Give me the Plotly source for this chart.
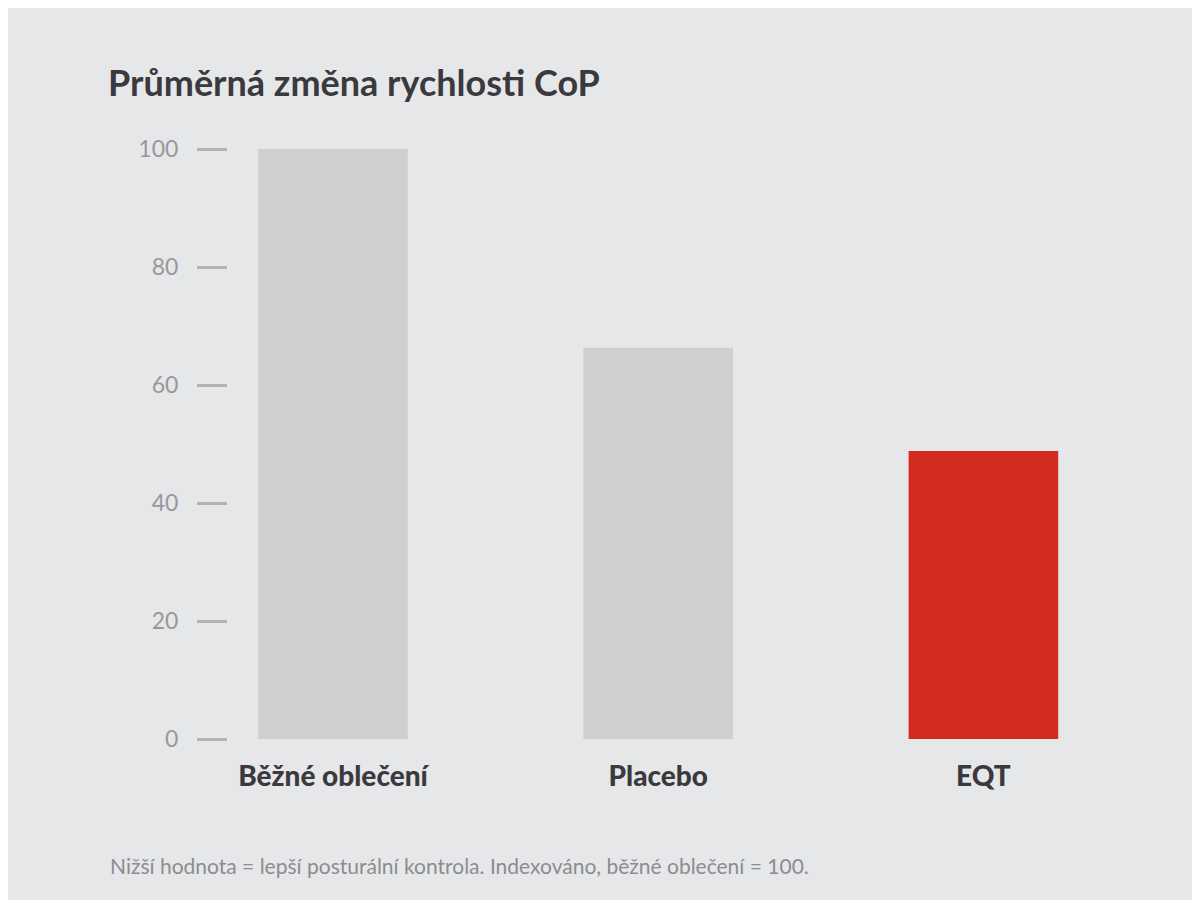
import plotly.graph_objects as go

categories = ["Běžné oblečení", "Placebo", "EQT"]
values = [100, 66.3, 48.8]
colors = ["#cfcfd1", "#cfcfd1", "#d42b20"]
yticks = [0, 20, 40, 60, 80, 100]

fig = go.Figure(go.Bar(x=categories, y=values, marker_color=colors, marker_line_width=0, width=0.46))
fig.update_layout(
    width=1200, height=900, paper_bgcolor="#e6e7e9", plot_bgcolor="#e6e7e9",
    margin=dict(l=220, r=62, t=141, b=169), showlegend=False,
    font=dict(family="Lato, sans-serif"),
    title=dict(text="<b>Průměrná změna rychlosti CoP</b>", x=100/1200, xanchor="left",
               y=1-75/900, yanchor="middle", font=dict(size=36, color="#3a3a3e")),
    annotations=[dict(text="Nižší hodnota = lepší posturální kontrola. Indexováno, běžné oblečení = 100.",
                      xref="paper", yref="paper", x=-120/917, y=-126/590, xanchor="left", yanchor="middle",
                      showarrow=False, font=dict(size=21, color="#8c8c90"))],
)
fig.update_xaxes(range=[-0.323, 2.5], showgrid=False, showline=False, zeroline=False,
                 tickfont=dict(size=28, color="#3a3a3e", family="Lato Black, Lato, sans-serif", weight="bold"),
                 ticks="", ticklabelstandoff=18)
fig.update_yaxes(range=[0, 100], tickvals=yticks, showgrid=False, zeroline=False, showline=False,
                 ticks="outside", ticklen=30, tickwidth=3, tickcolor="#b3b3b5",
                 tickfont=dict(size=23, color="#98989c"), ticklabelstandoff=14)
fig.write_html("out.html")
